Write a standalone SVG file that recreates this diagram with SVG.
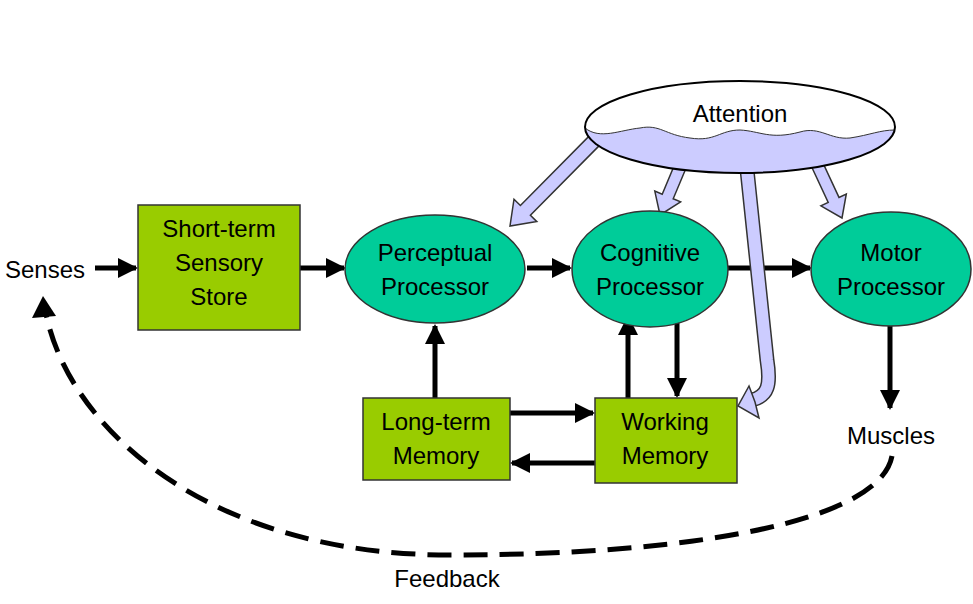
<svg xmlns="http://www.w3.org/2000/svg" width="973" height="604" viewBox="0 0 973 604">
<defs>
<style>
.box{fill:#99cc00;stroke:#333;stroke-width:1.5}
.proc{fill:#00cc99;stroke:#333;stroke-width:1.5}
.t{font-family:"Liberation Sans",Arial,sans-serif;font-size:24px;fill:#000;text-anchor:middle}
.c{stroke:#000;stroke-width:5;fill:none}
.ba{fill:#ccccff;stroke:#333;stroke-width:1.5}
</style>
<marker id="ah" viewBox="0 0 10 10" refX="9" refY="5" markerWidth="4" markerHeight="4" orient="auto" markerUnits="strokeWidth"><path d="M0,0L10,5L0,10Z" fill="#000"/></marker>
<marker id="ahd" viewBox="0 0 10 10" refX="9" refY="5" markerWidth="4" markerHeight="4" orient="auto" markerUnits="strokeWidth"><path d="M0,0L10,5L0,10Z" fill="#000"/></marker>
<clipPath id="ec"><ellipse cx="740" cy="127" rx="155" ry="46"/></clipPath>
</defs>
<rect width="973" height="604" fill="#fff"/>
<g id="connectors">
<line class="c" x1="95" y1="268" x2="136" y2="268" marker-end="url(#ah)"/>
<line class="c" x1="300" y1="268" x2="344" y2="268" marker-end="url(#ah)"/>
<line class="c" x1="527" y1="268" x2="570" y2="268" marker-end="url(#ah)"/>
<line class="c" x1="728" y1="268" x2="810" y2="268" marker-end="url(#ah)"/>
<line class="c" x1="435" y1="398" x2="435" y2="326" marker-end="url(#ah)"/>
<line class="c" x1="510" y1="413" x2="593" y2="413" marker-end="url(#ah)"/>
<line class="c" x1="595" y1="463" x2="512" y2="463" marker-end="url(#ah)"/>
<line class="c" x1="628" y1="398" x2="628" y2="317" marker-end="url(#ah)"/>
<line class="c" x1="677" y1="316" x2="677" y2="396" marker-end="url(#ah)"/>
<line class="c" x1="890" y1="326" x2="890" y2="408" marker-end="url(#ah)"/>
<path d="M892,456 C880,520 700,555 450,555 C200,555 60,420 44,302" fill="none" stroke="#000" stroke-width="5" stroke-dasharray="24,12"/>
<path d="M32,318 L43,296 L56,316 Z" fill="#000"/>
<polygon class="ba" points="600,144.9 530.4,215.3 536.8,221.6 510,226 514,199.2 520.4,205.5 590,135.1"/>
<polygon class="ba" points="688.5,162.3 673.2,198.8 680.6,201.9 660,215 654.8,191.1 662.2,194.2 677.5,157.7"/>
<polygon class="ba" points="809.6,162.5 828.2,202.4 820.9,205.8 842,218 846.3,194 839,197.4 820.4,157.5"/>
<path d="M746,160 L767,360 C771,385 768,396 752,400" fill="none" stroke="#333" stroke-width="15"/>
<path d="M746,160 L767,360 C771,385 768,396 752,400" fill="none" stroke="#ccccff" stroke-width="12"/>
<polygon class="ba" points="749,386 738,406 759,418 755,402"/>
</g>
<g id="attention">
<ellipse cx="740" cy="127" rx="155" ry="46" fill="#fff"/>
<path clip-path="url(#ec)" d="M585,128 C600,140 620,130 640,128 C660,124 665,135 690,138 C715,142 720,130 740,130 C760,131 770,140 800,132 C820,126 830,140 850,138 C870,135 880,130 895,130 L895,180 L585,180 Z" fill="#ccccff" stroke="#333" stroke-width="1"/>
<ellipse cx="740" cy="127" rx="155" ry="46" fill="none" stroke="#000" stroke-width="2"/>
<text class="t" x="740" y="122">Attention</text>
</g>
<g id="senses"><text class="t" x="45" y="278">Senses</text></g>
<g id="stss"><rect class="box" x="138" y="205" width="162" height="125"/>
<text class="t" x="219" y="237">Short-term</text><text class="t" x="219" y="271">Sensory</text><text class="t" x="219" y="305">Store</text></g>
<g id="perceptual"><ellipse class="proc" cx="435" cy="269" rx="90" ry="54"/>
<text class="t" x="435" y="261">Perceptual</text><text class="t" x="435" y="295">Processor</text></g>
<g id="cognitive"><ellipse class="proc" cx="650" cy="269" rx="78" ry="58"/>
<text class="t" x="650" y="261">Cognitive</text><text class="t" x="650" y="295">Processor</text></g>
<g id="motor"><ellipse class="proc" cx="891" cy="269" rx="80" ry="57"/>
<text class="t" x="891" y="261">Motor</text><text class="t" x="891" y="295">Processor</text></g>
<g id="ltm"><rect class="box" x="363" y="398" width="147" height="82"/>
<text class="t" x="436" y="430">Long-term</text><text class="t" x="436" y="464">Memory</text></g>
<g id="wm"><rect class="box" x="595" y="398" width="142" height="85"/>
<text class="t" x="665" y="430">Working</text><text class="t" x="665" y="464">Memory</text></g>
<g id="muscles"><text class="t" x="891" y="444">Muscles</text></g>
<g id="feedback"><text class="t" x="447" y="587">Feedback</text></g>
</svg>
